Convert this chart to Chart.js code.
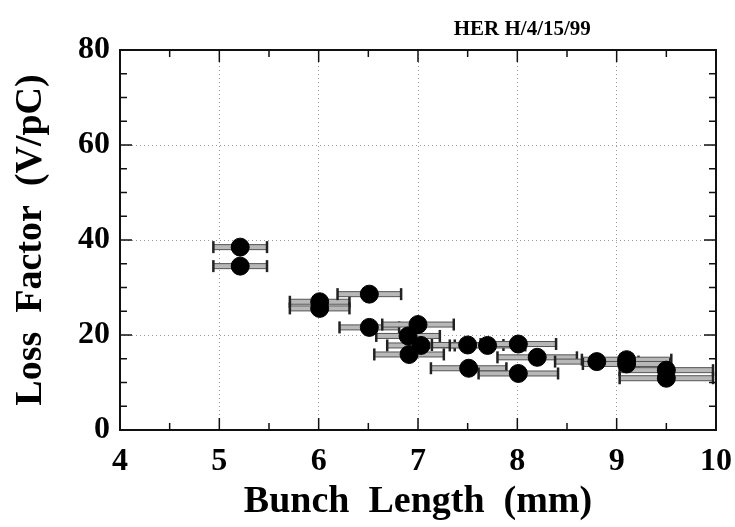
<!DOCTYPE html>
<html>
<head>
<meta charset="utf-8">
<script src="https://cdn.jsdelivr.net/npm/chart.js@4.4.0/dist/chart.umd.min.js"></script>
<style>
  body { margin: 0; background: #fff; }
  #wrap { width: 735px; height: 527px; }
</style>
</head>
<body>
<div id="wrap"><canvas id="lossChart"></canvas></div>
<script>
// loss factor vs bunch length, HER run of 4/15/99
const bunchLength = [5.21, 5.21, 6.01, 6.01, 6.51, 6.51, 7.00, 6.90, 7.03, 6.91, 7.50, 7.70, 7.51, 8.01, 8.20, 8.01, 8.80, 9.10, 9.10, 9.50, 9.50];
const lossFactor  = [38.5, 34.5, 27.0, 25.6, 28.6, 21.6, 22.2, 19.8, 17.8, 15.9, 17.9, 17.8, 13.0, 18.1, 15.3, 11.9, 14.4, 14.8, 13.9, 12.6, 10.9];
const lengthErr   = [0.27, 0.27, 0.30, 0.30, 0.32, 0.30, 0.36, 0.32, 0.34, 0.35, 0.36, 0.38, 0.38, 0.38, 0.40, 0.40, 0.42, 0.45, 0.44, 0.47, 0.47];
const xTicks = [4, 5, 6, 7, 8, 9, 10];
const yTicks = [0, 20, 40, 60, 80];
const runLabel = "HER H/4/15/99";

const serif = "'Liberation Serif', 'DejaVu Serif', serif";
Chart.defaults.font.family = serif;
Chart.defaults.font.weight = "bold";
Chart.defaults.color = "#000";

// horizontal error bars with end caps
const errorBars = {
  id: "errorBars",
  beforeDatasetsDraw(chart) {
    const { ctx } = chart;
    const xs = chart.scales.x, ys = chart.scales.y;
    ctx.save();
    bunchLength.forEach((b, i) => {
      const x0 = xs.getPixelForValue(b - lengthErr[i]);
      const x1 = xs.getPixelForValue(b + lengthErr[i]);
      const y = ys.getPixelForValue(lossFactor[i]);
      ctx.fillStyle = "#b8b8b8";
      ctx.fillRect(x0, y - 2.5, x1 - x0, 5);
      ctx.strokeStyle = "#555";
      ctx.lineWidth = 1;
      ctx.strokeRect(x0, y - 2.5, x1 - x0, 5);
      ctx.strokeStyle = "#222";
      ctx.lineWidth = 2.5;
      [x0, x1].forEach(px => {
        ctx.beginPath();
        ctx.moveTo(px, y - 6);
        ctx.lineTo(px, y + 6);
        ctx.stroke();
      });
    });
    ctx.restore();
  }
};

// box frame with inward ticks on all four sides, plus the run label
const frame = {
  id: "frame",
  afterDraw(chart) {
    const { ctx, chartArea: a } = chart;
    const xs = chart.scales.x, ys = chart.scales.y;
    ctx.save();
    ctx.strokeStyle = "#111";
    ctx.lineWidth = 2;
    ctx.strokeRect(a.left, a.top, a.right - a.left, a.bottom - a.top);
    ctx.lineWidth = 1.5;
    for (let v = 4; v <= 10.001; v += 0.5) {
      const px = xs.getPixelForValue(v);
      const len = Number.isInteger(v) ? 12 : 7;
      ctx.beginPath();
      ctx.moveTo(px, a.bottom); ctx.lineTo(px, a.bottom - len);
      ctx.moveTo(px, a.top); ctx.lineTo(px, a.top + len);
      ctx.stroke();
    }
    for (let v = 0; v <= 80; v += 5) {
      const py = ys.getPixelForValue(v);
      const len = v % 20 === 0 ? 12 : 7;
      ctx.beginPath();
      ctx.moveTo(a.left, py); ctx.lineTo(a.left + len, py);
      ctx.moveTo(a.right, py); ctx.lineTo(a.right - len, py);
      ctx.stroke();
    }
    ctx.fillStyle = "#000";
    ctx.font = "bold 21px " + serif;
    ctx.textAlign = "center";
    ctx.textBaseline = "middle";
    ctx.fillText(runLabel, xs.getPixelForValue(8.05), a.top - 20);
    ctx.restore();
  }
};

const points = bunchLength.map((b, i) => ({ x: b, y: lossFactor[i] }));

new Chart(document.getElementById("lossChart"), {
  type: "scatter",
  data: {
    datasets: [{
      label: "Loss Factor",
      data: points,
      backgroundColor: "#000",
      borderColor: "#000",
      pointRadius: 9,
      pointHoverRadius: 9
    }]
  },
  options: {
    responsive: true,
    maintainAspectRatio: false,
    animation: false,
    layout: { padding: { left: 0, right: 19, top: 50, bottom: 0 } },
    plugins: { legend: { display: false }, tooltip: { enabled: false } },
    scales: {
      x: {
        type: "linear",
        min: xTicks[0],
        max: xTicks[xTicks.length - 1],
        afterBuildTicks: s => { s.ticks = xTicks.map(v => ({ value: v })); },
        afterFit: s => { s.height = 97; s.paddingLeft = 0; s.paddingRight = 0; },
        grid: { color: "#9a9a9a", lineWidth: 1, drawTicks: false },
        border: { display: false, dash: [1, 3] },
        ticks: { font: { size: 32, weight: "bold" }, padding: 13, maxRotation: 0 },
        title: {
          display: true,
          text: "Bunch  Length  (mm)",
          font: { size: 38, weight: "bold" },
          padding: { top: 0, bottom: 2 }
        }
      },
      y: {
        type: "linear",
        min: yTicks[0],
        max: yTicks[yTicks.length - 1],
        afterBuildTicks: s => { s.ticks = yTicks.map(v => ({ value: v })); },
        afterFit: s => { s.width = 120; s.paddingTop = 0; s.paddingBottom = 0; },
        grid: { color: "#9a9a9a", lineWidth: 1, drawTicks: false },
        border: { display: false, dash: [1, 3] },
        ticks: { font: { size: 32, weight: "bold" }, padding: 10 },
        title: {
          display: true,
          text: "Loss  Factor  (V/pC)",
          font: { size: 38, weight: "bold" },
          padding: { top: 8, bottom: 0 }
        }
      }
    }
  },
  plugins: [errorBars, frame]
});
</script>
</body>
</html>
